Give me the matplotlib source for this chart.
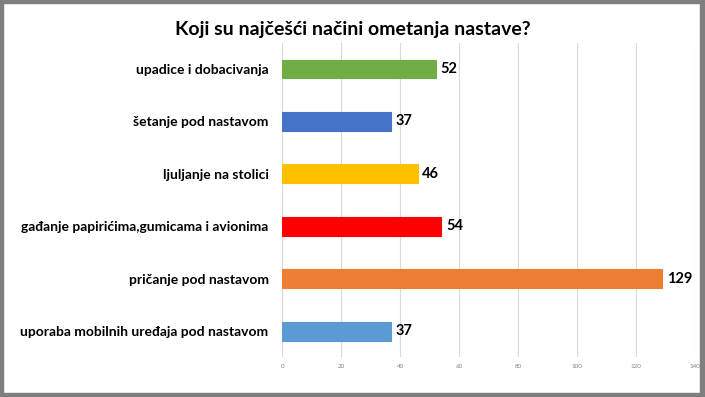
import matplotlib.pyplot as plt
from matplotlib.patches import Rectangle

categories = [
    "upadice i dobacivanja",
    "šetanje pod nastavom",
    "ljuljanje na stolici",
    "gađanje papirićima,gumicama i avionima",
    "pričanje pod nastavom",
    "uporaba mobilnih uređaja pod nastavom",
]
values = [52, 37, 46, 54, 129, 37]
colors = ["#70AD47", "#4472C4", "#FFC000", "#FF0000", "#ED7D31", "#5B9BD5"]
xticks = [0, 20, 40, 60, 80, 100, 120, 140]

plt.rcParams['font.family'] = ['Lato', 'DejaVu Sans']

W, H = 705, 397
fig = plt.figure(figsize=(W / 100, H / 100), dpi=100)
ax = fig.add_axes([0.4007, 0.0995, 0.5845, 0.7929])

pos = list(range(len(categories)))
ax.barh(pos, values, height=0.36, color=colors, edgecolor=colors, linewidth=0.8, zorder=3)
for y, v in zip(pos, values):
    ax.text(v + 1.5, y, str(v), va='center', ha='left', fontsize=10.5,
            fontweight='bold', color='black')

ax.set_xlim(0, 140)
ax.set_ylim(5.5, -0.5)
ax.set_xticks(xticks)
ax.set_xticklabels([str(t) for t in xticks], fontsize=4.5, color='#808080')
ax.set_yticks(pos)
ax.set_yticklabels(categories, fontsize=10, fontweight='bold', color='black')
ax.tick_params(axis='both', length=0)
ax.tick_params(axis='y', pad=10)
ax.tick_params(axis='x', pad=5)
ax.grid(axis='x', color='#D9D9D9', linewidth=0.8, zorder=0)
for s in ax.spines.values():
    s.set_visible(False)

fig.text(0.5, 0.925, "Koji su najčešći načini ometanja nastave?", ha='center',
         va='center', fontsize=14, fontweight='bold', color='black')

# gray frame round the picture: left, top, right (shadow), bottom (shadow)
for x0, y0, w, h in [(0, 0, 3, H), (0, H - 3, W, 3), (W - 5, 0, 5, H), (0, 0, W, 4)]:
    fig.patches.append(Rectangle((x0 / W, y0 / H), w / W, h / H, transform=fig.transFigure,
                                 color='#7F7F7F', zorder=10))

fig.savefig("out.png", dpi=100)
